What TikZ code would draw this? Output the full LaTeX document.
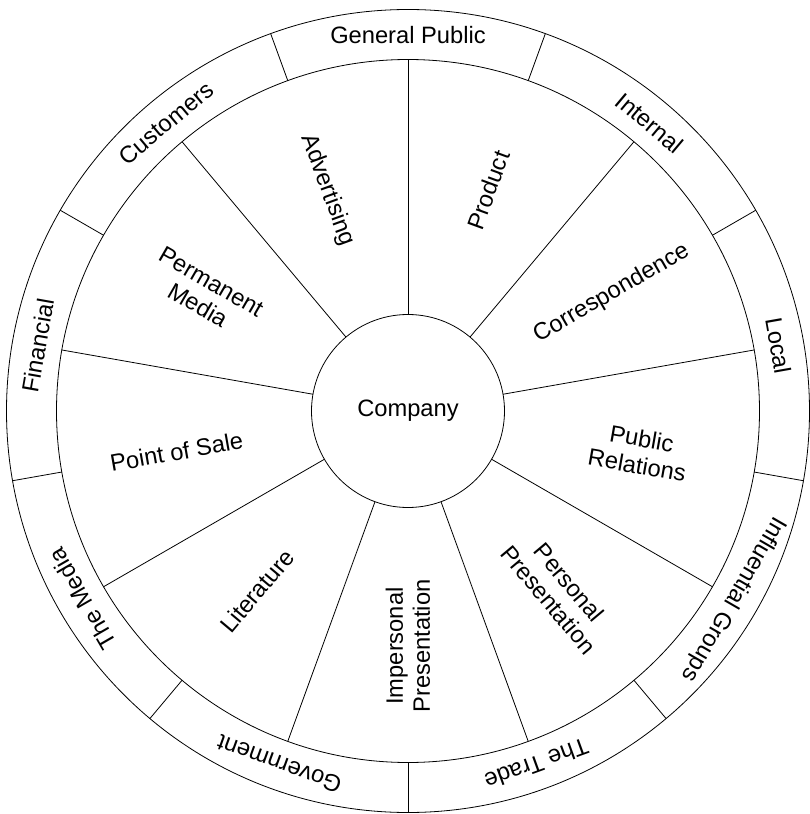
\documentclass[tikz,border=0pt]{standalone}
\usepackage{fontspec}
\setmainfont{Liberation Sans}

\begin{document}
\begin{tikzpicture}[
x=1pt, y=1pt,
font=\fontsize{23.7}{27}\selectfont,
line width=0.8pt,
ringnode/.style={circle, draw=black, inner sep=0pt, outer sep=0pt},
hubnode/.style={ringnode, minimum size=193pt},
wedgelabel/.style={align=center, inner sep=0pt},
ringlabel/.style={inner sep=0pt}
]

\useasboundingbox (-408,-403) rectangle (402,411);

%Circles
\node[ringnode, minimum size=803pt] (rim) at (0,0) {};
\node[ringnode, minimum size=703pt] (ring) at (0,0) {};
\node[hubnode] (company) at (0,0) {Company};

%Spokes
\draw (company.90) -- (ring.90);
\draw (company.50) -- (ring.50);
\draw (company.10) -- (ring.10);
\draw (company.-30) -- (ring.-30);
\draw (company.-70) -- (ring.-70);
\draw (company.-110) -- (ring.-110);
\draw (company.-150) -- (ring.-150);
\draw (company.170) -- (ring.170);
\draw (company.130) -- (ring.130);

%Rim dividers
\draw (ring.70) -- (rim.70);
\draw (ring.30) -- (rim.30);
\draw (ring.-10) -- (rim.-10);
\draw (ring.-50) -- (rim.-50);
\draw (ring.-90) -- (rim.-90);
\draw (ring.-130) -- (rim.-130);
\draw (ring.-170) -- (rim.-170);
\draw (ring.150) -- (rim.150);
\draw (ring.110) -- (rim.110);

%Wedge labels
\node[wedgelabel, rotate=-70] (advertising) at (110:235pt) {Advertising};
\node[wedgelabel, rotate=70] (product) at (70:235pt) {Product};
\node[wedgelabel, rotate=30] (correspondence) at (30:235pt) {Correspondence};
\node[wedgelabel, rotate=-10] (publicrel) at (-10:235pt) {Public\\Relations};
\node[wedgelabel, rotate=-50] (personal) at (-50:235pt) {Personal\\Presentation};
\node[wedgelabel, rotate=90] (impersonal) at (-90:235pt) {Impersonal\\Presentation};
\node[wedgelabel, rotate=50] (literature) at (-130:235pt) {Literature};
\node[wedgelabel, rotate=10] (pointofsale) at (190:235pt) {Point of Sale};
\node[wedgelabel, rotate=-30] (permanent) at (150:235pt) {Permanent\\Media};

%Rim labels
\node[ringlabel] (genpublic) at (90:376pt) {General Public};
\node[ringlabel, rotate=-40] (internal) at (50:376pt) {Internal};
\node[ringlabel, rotate=-80] (local) at (10:376pt) {Local};
\node[ringlabel, rotate=-120] (influential) at (-30:376pt) {Influential Groups};
\node[ringlabel, rotate=-160] (trade) at (-70:376pt) {The Trade};
\node[ringlabel, rotate=160] (government) at (-110:376pt) {Government};
\node[ringlabel, rotate=120] (media) at (-150:376pt) {The Media};
\node[ringlabel, rotate=80] (financial) at (170:376pt) {Financial};
\node[ringlabel, rotate=40] (customers) at (130:376pt) {Customers};

\end{tikzpicture}
\end{document}
